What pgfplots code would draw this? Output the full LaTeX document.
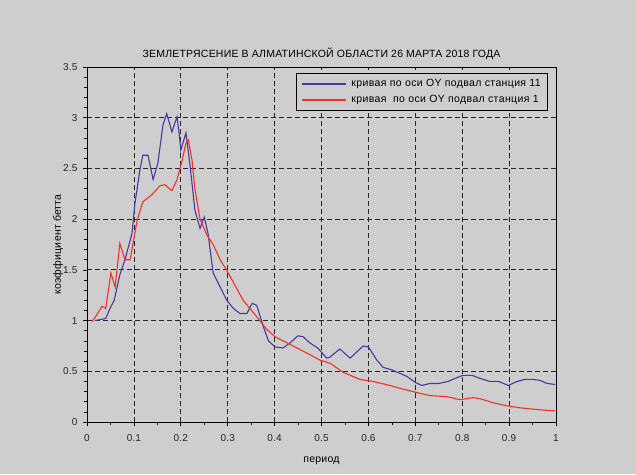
\documentclass[border=0pt]{standalone}
\usepackage{pgfplots}
\pgfplotsset{compat=1.18}
\usepackage{fontspec}
\setmainfont{Liberation Sans}
\newfontfamily\wfont[LetterSpace=2]{Liberation Sans}
\newfontfamily\lfont[LetterSpace=3.5]{Liberation Sans}
\definecolor{bg}{RGB}{206,206,206}
\definecolor{cblue}{RGB}{70,58,158}
\definecolor{cred}{RGB}{240,50,40}
\begin{document}
\begin{tikzpicture}[x=1pt,y=1pt]
\fill[bg] (0,0) rectangle (636,474);
\useasboundingbox (0,0) rectangle (636,474);
\begin{axis}[
  at={(87pt,52pt)}, anchor=south west,
  width=469pt, height=355pt, scale only axis,
  xmin=0, xmax=1, ymin=0, ymax=3.5,
  xtick={0,0.1,0.2,0.3,0.4,0.5,0.6,0.7,0.8,0.9,1},
  xticklabels={0,0.1,0.2,0.3,0.4,0.5,0.6,0.7,0.8,0.9,1},
  ytick={0,0.5,1,1.5,2,2.5,3,3.5},
  yticklabels={0,0.5,1,1.5,2,2.5,3,3.5},
  minor x tick num=1, minor y tick num=4,
  tick pos=left, tick align=outside,
  major tick length=4pt, minor tick length=3pt,
  tick style={black, line width=0.7pt},
  axis line style={black, line width=0.8pt},
  grid=major,
  major grid style={black!85, dash pattern=on 5pt off 3pt, line width=0.8pt},
  tick label style={font=\wfont\fontsize{10}{12}\selectfont, text=black!85},
  xticklabel style={yshift=-5pt},
  yticklabel style={xshift=-2pt},
  title={ЗЕМЛЕТРЯСЕНИЕ В АЛМАТИНСКОЙ ОБЛАСТИ 26 МАРТА 2018 ГОДА},
  title style={at={(axis description cs:0.5,1.0215)}, anchor=center, font=\wfont\fontsize{10.5}{12}\selectfont},
  xlabel={период},
  xlabel style={at={(axis description cs:0.5,-0.11)}, anchor=center, font=\wfont\fontsize{10.5}{12}\selectfont},
  ylabel={коэффициент бетта},
  ylabel style={at={(axis description cs:-0.0618,0.5)}, anchor=center, font=\wfont\fontsize{10.5}{12}\selectfont},
  legend style={at={(0.983,0.983)}, anchor=north east, fill=bg, draw=black, line width=0.6pt,
    font=\lfont\fontsize{10.5}{12}\selectfont, row sep=5pt, inner xsep=5pt, inner ysep=5pt,
    nodes={inner ysep=0pt, text height=8pt, text depth=3pt}},
  legend cell align=left,
  legend image code/.code={\draw[#1, line width=1.5pt] (-1pt,0pt) -- (43pt,0pt); \path (46pt,0pt);},
]
\addplot[cblue, line width=1.1pt] coordinates {
(0.017,1.0) (0.04,1.02) (0.049,1.12) (0.058,1.2) (0.07,1.45) (0.081,1.6) (0.096,1.86) (0.102,2.15) (0.113,2.49) (0.119,2.63) (0.13,2.63) (0.141,2.39) (0.151,2.55) (0.162,2.93) (0.17,3.04) (0.181,2.86) (0.192,3.01) (0.198,2.78) (0.2,2.68) (0.211,2.85) (0.22,2.52) (0.23,2.09) (0.241,1.91) (0.25,2.02) (0.258,1.86) (0.269,1.47) (0.284,1.33) (0.298,1.2) (0.312,1.12) (0.326,1.07) (0.341,1.07) (0.352,1.17) (0.362,1.15) (0.376,0.94) (0.387,0.8) (0.401,0.74) (0.418,0.73) (0.433,0.78) (0.45,0.85) (0.461,0.84) (0.475,0.78) (0.492,0.73) (0.511,0.63) (0.518,0.64) (0.539,0.72) (0.561,0.63) (0.589,0.75) (0.6,0.74) (0.618,0.61) (0.631,0.54) (0.652,0.51) (0.682,0.45) (0.7,0.39) (0.714,0.36) (0.731,0.38) (0.75,0.38) (0.77,0.4) (0.785,0.43) (0.801,0.46) (0.821,0.46) (0.838,0.43) (0.859,0.4) (0.878,0.4) (0.898,0.36) (0.917,0.4) (0.934,0.42) (0.951,0.42) (0.966,0.41) (0.981,0.38) (0.998,0.37)
};
\addlegendentry{кривая по оси OY подвал станция 11}
\addplot[cred, line width=1.1pt] coordinates {
(0.011,0.99) (0.02,1.05) (0.032,1.14) (0.04,1.12) (0.051,1.47) (0.06,1.33) (0.07,1.76) (0.081,1.6) (0.092,1.6) (0.107,1.99) (0.119,2.17) (0.138,2.24) (0.156,2.33) (0.166,2.34) (0.181,2.28) (0.192,2.39) (0.203,2.58) (0.211,2.75) (0.216,2.78) (0.224,2.58) (0.23,2.3) (0.241,2.0) (0.256,1.84) (0.269,1.75) (0.284,1.6) (0.301,1.47) (0.333,1.2) (0.358,1.06) (0.384,0.91) (0.401,0.84) (0.448,0.73) (0.497,0.61) (0.518,0.58) (0.546,0.49) (0.582,0.42) (0.61,0.4) (0.646,0.36) (0.661,0.34) (0.695,0.3) (0.731,0.26) (0.768,0.25) (0.795,0.22) (0.823,0.24) (0.838,0.23) (0.866,0.19) (0.895,0.16) (0.923,0.14) (0.966,0.12) (0.998,0.11)
};
\addlegendentry{кривая\ \ по оси OY подвал станция 1}
\end{axis}
\end{tikzpicture}
\end{document}
